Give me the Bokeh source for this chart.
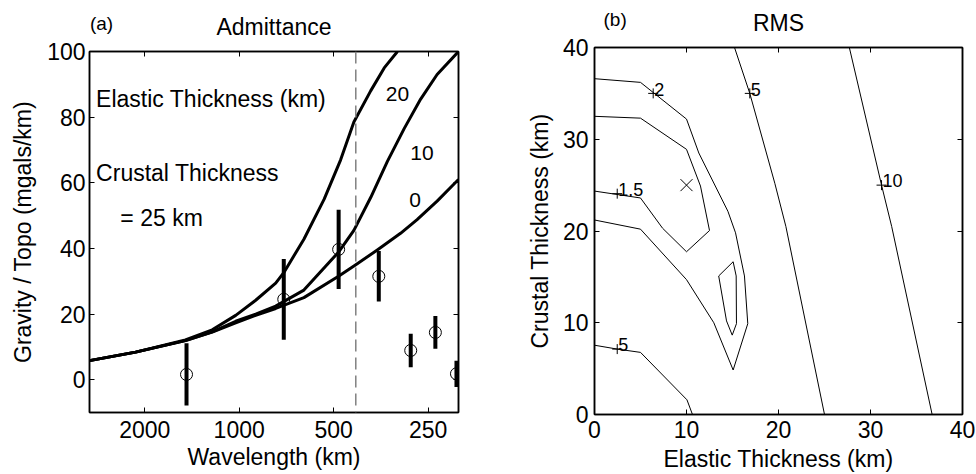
import math
from bokeh.plotting import figure
from bokeh.models import (Range1d, FixedTicker, PrintfTickFormatter, LinearAxis,
                          LogAxis, Label, Span, CustomLabelingPolicy)
from bokeh.layouts import row, column
from bokeh.embed import file_html
from bokeh.resources import INLINE
from bokeh.core.properties import value

FONT = "Liberation Sans"

# ---------------- panel (a): admittance ----------------
te0_lam = [3000, 2139, 1484, 1219, 1026, 886, 765, 622, 481, 425, 362, 306, 271, 234, 200]
te0_val = [5.8, 8.4, 11.9, 14.5, 17.3, 19.6, 21.7, 25.0, 31.6, 35.0, 39.6, 44.6, 48.8, 54.4, 61.0]

te10_lam = [3000, 2139, 1484, 1219, 1026, 886, 765, 622, 481, 431, 381, 337, 298, 264, 234, 200]
te10_val = [5.8, 8.4, 11.9, 14.6, 17.8, 20.0, 22.4, 27.3, 39.0, 45.5, 55.5, 66.5, 76.5, 85.5, 93.0, 100.0]

te20_lam = [3000, 2139, 1484, 1219, 1026, 886, 765, 721, 622, 536, 475, 431, 381, 345, 313]
te20_val = [5.8, 8.4, 12.1, 15.2, 19.6, 24.2, 29.4, 32.6, 42.8, 55.0, 67.0, 78.5, 88.0, 95.0, 100.0]

obs_lam = [1472, 721, 482, 359, 284, 237, 203]
obs_val = [1.6, 24.5, 39.7, 31.5, 8.9, 14.4, 1.8]
obs_err = [9.5, 12.3, 12.1, 7.7, 5.1, 5.0, 4.0]

cut_lam = 425
xticks_a = [250, 500, 1000, 2000]
yticks_a = [0, 20, 40, 60, 80, 100]
xlim_a = (3000, 200)
ylim_a = (-10, 100)

# ---------------- panel (b): RMS contours ----------------
c2_x = [0, 5, 10, 11.34, 14.5, 15.33, 16.3, 16.66, 15.07, 12.97, 10, 5, 0]
c2_y = [36.6, 36.2, 32.2, 28.5, 22.15, 19.8, 15.1, 9.9, 4.85, 10.0, 14.7, 20.2, 21.2]

c15a_x = [0, 5, 7.4, 10, 12.5, 11.52, 10, 5, 0]
c15a_y = [24.35, 23.6, 20.3, 17.74, 20.05, 24.9, 28.9, 32.3, 32.5]

c15b_x = [13.5, 15.07, 15.4, 15.43, 14.97, 14.35, 13.5]
c15b_y = [15.1, 16.65, 15.1, 9.9, 8.65, 10.2, 15.1]

c5a_x = [15.22, 16.88, 19.6, 20.8, 25.0]
c5a_y = [40, 35.0, 25.2, 20.5, 0]

c10_x = [27.7, 31.2, 32.3, 36.7]
c10_y = [40, 25.0, 20.5, 0]

c5b_x = [0, 2.47, 5, 10.05, 10.65]
c5b_y = [7.55, 7.13, 6.77, 1.6, 0]

lab_x = [6.38, 16.88, 2.47, 31.2, 2.47]
lab_y = [35.0, 35.0, 24.07, 25.0, 7.13]
lab_t = ["2", "5", "1.5", "10", "5"]

best_x = [10]
best_y = [25]
ticks_b = [0, 10, 20, 30, 40]
lim_b = (0, 40)

NO_LABELS = "for (const i of Array.from(indices)) { indices.unset(i) }\nreturn indices"


def style_axis(ax, show=True):
    ax.major_tick_in = 5
    ax.major_tick_out = 0
    ax.minor_tick_in = 0
    ax.minor_tick_out = 0
    ax.axis_line_width = 1.5
    ax.axis_line_color = "black"
    ax.major_tick_line_color = "black"
    ax.major_tick_line_width = 1
    ax.major_label_text_font = FONT
    ax.major_label_text_color = "black"
    ax.axis_label_text_font = FONT
    ax.axis_label_text_font_size = "23px"
    ax.axis_label_text_font_style = "normal"
    ax.axis_label_text_color = "black"
    if show:
        ax.major_label_text_font_size = "23px"
    else:
        # mirrored tick marks only: no tick labels, and no space taken by them
        ax.major_label_text_font_size = "0px"
        ax.major_label_policy = CustomLabelingPolicy(code=NO_LABELS)
        ax.major_label_standoff = 0


def head_label(x, y, text, size, align):
    return Label(x=x, y=y, text=text, text_font=FONT, text_font_size=size,
                 text_baseline="middle", text_align=align, text_color="black")


# ---------- figure (a)
p1 = figure(width=480, height=474, x_axis_type="log",
            x_range=Range1d(*xlim_a), y_range=Range1d(*ylim_a),
            output_backend="svg", toolbar_location=None, title_location=None,
            min_border_left=89, min_border_right=22,
            min_border_top=51, min_border_bottom=62)
p1.grid.visible = False
p1.outline_line_color = "black"
p1.outline_line_width = 1.5
p1.background_fill_color = "white"
p1.border_fill_color = "white"

p1.xaxis.ticker = FixedTicker(ticks=xticks_a)
p1.xaxis.formatter = PrintfTickFormatter(format="%d")
p1.yaxis.ticker = FixedTicker(ticks=yticks_a)
p1.xaxis.axis_label = "Wavelength (km)"
p1.yaxis.axis_label = "Gravity / Topo (mgals/km)"
for ax in p1.xaxis + p1.yaxis:
    style_axis(ax)
p1.xaxis.major_label_standoff = 8
p1.xaxis.axis_label_standoff = 3
p1.yaxis.major_label_standoff = 4
p1.yaxis.axis_label_standoff = 8

ax_top = LogAxis(ticker=FixedTicker(ticks=xticks_a))
style_axis(ax_top, show=False)
p1.add_layout(ax_top, "above")
ax_right = LinearAxis(ticker=FixedTicker(ticks=yticks_a))
style_axis(ax_right, show=False)
p1.add_layout(ax_right, "right")

p1.add_layout(Span(location=cut_lam, dimension="height", line_color="#808080",
                   line_width=1.5, line_dash="12 6"))

for lam, val in [(te0_lam, te0_val), (te10_lam, te10_val), (te20_lam, te20_val)]:
    p1.line(lam, val, line_color="black", line_width=3, line_join="round")

lo = [v - e for v, e in zip(obs_val, obs_err)]
hi = [v + e for v, e in zip(obs_val, obs_err)]
p1.segment(x0=obs_lam, y0=lo, x1=obs_lam, y1=hi, line_color="black", line_width=4)
p1.scatter(obs_lam, obs_val, marker="circle", size=12, fill_color=None,
           line_color="black", line_width=1)

for txt, x, y in [("Elastic Thickness (km)", 2858, 85.5),
                  ("Crustal Thickness", 2858, 63.0),
                  ("= 25 km", 2392, 49.3)]:
    p1.add_layout(head_label(x, y, txt, "23px", "left"))
for txt, x, y in [("20", 341, 87.2), ("10", 285, 69.2), ("0", 287, 54.6)]:
    p1.add_layout(head_label(x, y, txt, "21px", "left"))

# panel letter and title, placed in the top side panel so they are not clipped
p1.add_layout(head_label(2990, 108.4, "(a)", "19px", "left"), "above")
p1.add_layout(head_label(math.sqrt(xlim_a[0] * xlim_a[1]), 107.4, "Admittance",
                         "23px", "center"), "above")

# ---------- figure (b)
p2 = figure(width=496, height=474,
            x_range=Range1d(*lim_b), y_range=Range1d(*lim_b),
            output_backend="svg", toolbar_location=None, title_location=None,
            min_border_left=114, min_border_right=14,
            min_border_top=47, min_border_bottom=58)
p2.grid.visible = False
p2.outline_line_color = "black"
p2.outline_line_width = 1.5
p2.background_fill_color = "white"
p2.border_fill_color = "white"
p2.xaxis.ticker = FixedTicker(ticks=ticks_b)
p2.yaxis.ticker = FixedTicker(ticks=ticks_b)
p2.xaxis.axis_label = "Elastic Thickness (km)"
p2.yaxis.axis_label = "Crustal Thickness (km)"
for ax in p2.xaxis + p2.yaxis:
    style_axis(ax)
p2.xaxis.major_label_standoff = 6
p2.xaxis.axis_label_standoff = 5
p2.yaxis.major_label_standoff = 6
p2.yaxis.axis_label_standoff = 7
bx_top = LinearAxis(ticker=FixedTicker(ticks=ticks_b))
style_axis(bx_top, show=False)
p2.add_layout(bx_top, "above")
bx_right = LinearAxis(ticker=FixedTicker(ticks=ticks_b))
style_axis(bx_right, show=False)
p2.add_layout(bx_right, "right")

for cx, cy in [(c2_x, c2_y), (c15a_x, c15a_y), (c15b_x, c15b_y),
               (c5a_x, c5a_y), (c10_x, c10_y), (c5b_x, c5b_y)]:
    p2.line(cx, cy, line_color="black", line_width=1)

p2.scatter(lab_x, lab_y, marker="cross", size=10, line_color="black", line_width=1)
# contour labels sit just above and to the right of their "+" markers
p2.text(x=lab_x, y=[v + 0.45 for v in lab_y], text=lab_t, text_font=value(FONT),
        text_font_size="18px", text_baseline="alphabetic", text_align="left",
        x_offset=1, text_color="black")
p2.scatter(best_x, best_y, marker="x", size=17, line_color="black", line_width=1)

p2.add_layout(head_label(0.98, 43.0, "(b)", "19px", "left"), "above")
p2.add_layout(head_label((lim_b[0] + lim_b[1]) / 2, 42.7, "RMS", "23px", "center"), "above")

# each figure sits in its own column so that their frames are laid out independently
layout = row(column(p1), column(p2))
open("out.html", "w").write(file_html(layout, INLINE))
